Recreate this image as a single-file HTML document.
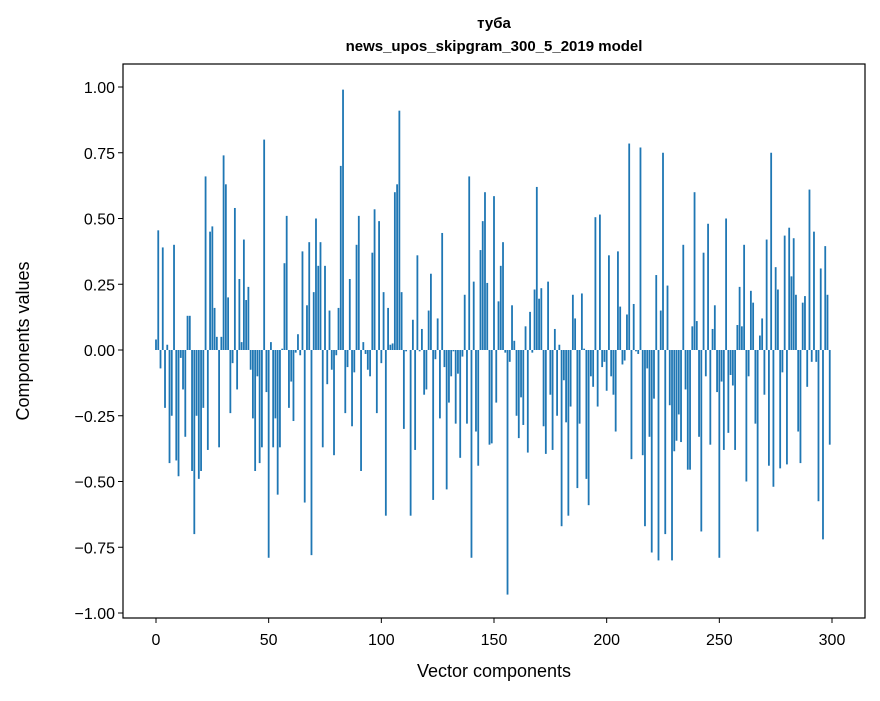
<!DOCTYPE html>
<html><head><meta charset="utf-8"><style>
body{margin:0;background:#fff;width:880px;height:696px;overflow:hidden}
svg{font-family:"Liberation Sans","DejaVu Sans",sans-serif}
</style></head><body>
<svg id="chart" width="880" height="696">
<rect width="880" height="696" fill="#fff"/>
<text x="494" y="28" text-anchor="middle" font-size="15" font-weight="bold">туба</text>
<text x="494" y="51" text-anchor="middle" font-size="15" font-weight="bold">news_upos_skipgram_300_5_2019 model</text>
<g id="bars"></g>
<g id="axes"></g>
<rect x="123" y="64" width="742" height="554" fill="none" stroke="#000" stroke-width="1.2"/>
<text x="494" y="677" text-anchor="middle" font-size="18">Vector components</text>
<text transform="translate(29,341) rotate(-90)" text-anchor="middle" font-size="18">Components values</text>
</svg>
<script>
const values = [0.04,0.455,-0.07,0.39,-0.22,0.02,-0.43,-0.25,0.40,-0.42,-0.48,-0.03,-0.15,-0.33,0.13,0.13,-0.46,-0.70,-0.25,-0.49,-0.46,-0.22,0.66,-0.38,0.45,0.47,0.16,0.05,-0.37,0.05,0.74,0.63,0.20,-0.24,-0.05,0.54,-0.15,0.27,0.03,0.42,0.19,0.24,-0.075,-0.26,-0.46,-0.10,-0.43,-0.37,0.80,-0.16,-0.79,
0.03,-0.37,-0.26,-0.55,-0.37,0.005,0.33,0.51,-0.22,-0.12,-0.27,-0.01,0.06,-0.02,0.375,-0.58,0.17,0.41,-0.78,0.22,0.50,0.32,0.41,-0.37,0.32,-0.13,0.15,-0.075,-0.40,-0.02,0.16,0.70,0.99,-0.24,-0.065,0.27,-0.29,-0.085,0.40,0.51,-0.46,0.03,-0.015,-0.075,-0.10,0.37,0.535,-0.24,0.49,-0.05,0.22,
-0.63,0.16,0.02,0.025,0.60,0.63,0.91,0.22,-0.30,-0.005,0.0,-0.63,0.115,-0.38,0.36,-0.005,0.08,-0.17,-0.15,0.15,0.29,-0.57,-0.035,0.12,-0.26,0.445,-0.065,-0.53,-0.20,-0.10,-0.005,-0.28,-0.09,-0.41,-0.025,0.21,-0.28,0.66,-0.79,0.26,-0.31,-0.44,0.38,0.49,0.60,0.255,-0.36,-0.355,0.585,-0.20,0.185,
0.32,0.41,-0.01,-0.93,-0.045,0.17,0.035,-0.25,-0.335,-0.18,-0.285,0.09,-0.39,0.145,-0.01,0.23,0.62,0.195,0.235,-0.29,-0.395,0.26,-0.17,-0.38,0.08,-0.25,0.02,-0.67,-0.115,-0.275,-0.63,-0.215,0.21,0.12,-0.525,-0.28,0.215,0.005,-0.49,-0.59,-0.10,-0.14,0.505,-0.215,0.515,-0.065,-0.045,-0.155,0.36,-0.10,-0.17,
-0.31,0.375,0.165,-0.055,-0.04,0.135,0.785,-0.415,0.175,-0.005,-0.015,0.77,-0.40,-0.67,-0.07,-0.33,-0.77,-0.185,0.285,-0.80,0.15,0.75,-0.70,0.245,-0.21,-0.80,-0.385,-0.345,-0.245,-0.35,0.40,-0.15,-0.455,-0.455,0.09,0.60,0.11,-0.33,-0.69,0.37,-0.10,0.48,-0.36,0.08,0.17,-0.16,-0.79,-0.12,-0.38,0.50,-0.315,
-0.095,-0.135,-0.38,0.095,0.24,0.09,0.40,-0.50,-0.10,0.225,0.18,-0.28,-0.69,0.055,0.12,-0.17,0.42,-0.44,0.75,-0.52,0.315,0.23,-0.45,-0.085,0.435,-0.435,0.465,0.28,0.425,0.21,-0.31,-0.43,0.18,0.205,-0.14,0.61,-0.045,0.45,-0.045,-0.575,0.31,-0.72,0.395,0.21,-0.36];
const xTicks = [0,50,100,150,200,250,300];
const yTicks = [-1.00,-0.75,-0.50,-0.25,0.00,0.25,0.50,0.75,1.00];
const NS='http://www.w3.org/2000/svg';
const xS = v => 156 + v*(676/300);
const yS = v => 350 - v*263;
const bars = document.getElementById('bars');
values.forEach((v,i)=>{
  const r = document.createElementNS(NS,'rect');
  const w = 0.8*(676/300);
  r.setAttribute('x', xS(i)-w/2);
  r.setAttribute('width', w);
  r.setAttribute('y', Math.min(yS(v), yS(0)));
  r.setAttribute('height', Math.abs(yS(v)-yS(0)));
  r.setAttribute('fill','#1f77b4');
  
  
  bars.appendChild(r);
});
const axes = document.getElementById('axes');
xTicks.forEach(t=>{
  const l = document.createElementNS(NS,'line');
  l.setAttribute('x1',xS(t));l.setAttribute('x2',xS(t));l.setAttribute('y1',618);l.setAttribute('y2',623);
  l.setAttribute('stroke','#000');
  
  
  axes.appendChild(l);
  const tx = document.createElementNS(NS,'text');
  tx.setAttribute('x',xS(t));tx.setAttribute('y',645);tx.setAttribute('text-anchor','middle');tx.setAttribute('font-size','16');
  tx.textContent = t;
  
  
  axes.appendChild(tx);
});
yTicks.forEach(t=>{
  const l = document.createElementNS(NS,'line');
  l.setAttribute('x1',118);l.setAttribute('x2',123);l.setAttribute('y1',yS(t));l.setAttribute('y2',yS(t));
  l.setAttribute('stroke','#000');
  
  
  axes.appendChild(l);
  const tx = document.createElementNS(NS,'text');
  tx.setAttribute('x',115);tx.setAttribute('y',yS(t)+6);tx.setAttribute('text-anchor','end');tx.setAttribute('font-size','16');
  tx.textContent = (t<0?'\u2212':'') + Math.abs(t).toFixed(2);
  
  
  axes.appendChild(tx);
});
</script>
</body></html>
